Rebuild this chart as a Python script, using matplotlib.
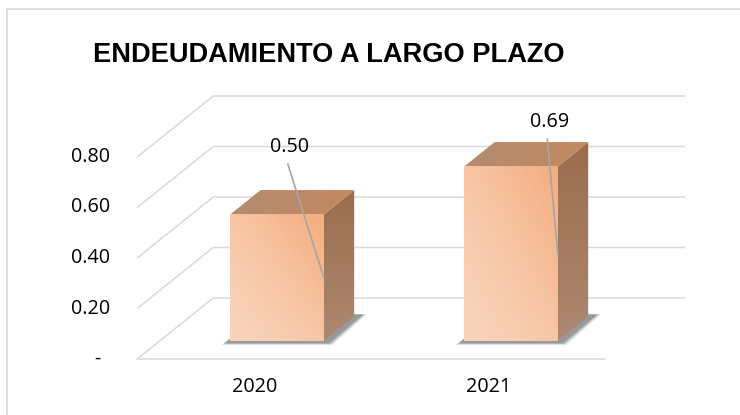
import matplotlib
matplotlib.use("Agg")
import matplotlib.pyplot as plt
import numpy as np
from matplotlib.patches import Polygon
from matplotlib.lines import Line2D
from matplotlib.colors import to_rgb

# ---------------- data ----------------
categories = ["2020", "2021"]
values = [0.50, 0.69]
value_labels = ["0.50", "0.69"]
tick_values = [0.0, 0.2, 0.4, 0.6, 0.8]
tick_labels = ["-", "0.20", "0.40", "0.60", "0.80"]
title = "ENDEUDAMIENTO A LARGO PLAZO"

# ---------------- layout / style ----------------
W, H, DPI = 740, 415, 100
PX0, PXS = 277.0, 234.0      # pixel of category 0 front, pixels per category unit
PY0, PYS = 340.7, 252.5      # pixel of value 0 at bar front, pixels per value unit
DX, DY = 76 / PXS, 61 / PYS  # depth vector of the floor (data units)
T_FRONT, T_BACK = 0.30, 0.70 # bar depth span
HALF_W = 0.20                # bar half width (category units)
GRID = "#D9D9D9"
LABEL_FONT = "Open Sans"
FS = 14.2
label_offsets_px = [(-34, 67.5), (-8.5, 44.5)]  # data label centre from bar top-right corner

fig = plt.figure(figsize=(W / DPI, H / DPI), dpi=DPI)
ax = fig.add_axes([0, 0, 1, 1])
ax.set_xlim((0 - PX0) / PXS, (W - PX0) / PXS)
ax.set_ylim((PY0 - H) / PYS, PY0 / PYS)
ax.axis("off")


def proj(x, v, t):
    return (x + (t - T_FRONT) * DX, v + (t - T_FRONT) * DY)


def px(dx, dy):
    return dx / PXS, dy / PYS


n = len(categories)
X_LEFT, X_RIGHT = -0.5, n - 0.5

# walls / gridlines
for v in tick_values:
    p0, p1, p2 = proj(X_LEFT, v, 0), proj(X_LEFT, v, 1), proj(X_RIGHT, v, 1)
    ax.plot([p0[0], p1[0], p2[0] + 4 / PXS], [p0[1], p1[1], p2[1]],
            color=GRID, lw=1.1, zorder=1, solid_capstyle="butt")
f0, f1 = proj(X_LEFT, 0, 0), proj(X_RIGHT, 0, 0)
ax.plot([f0[0], f1[0]], [f0[1], f1[1]], color=GRID, lw=1.1, zorder=1)

# value-axis labels
for v, lab in zip(tick_values, tick_labels):
    if lab == "-":
        ax.annotate(lab, xy=proj(X_LEFT, v, 0), xytext=(-40, 0), textcoords="offset pixels",
                    ha="center", va="center", fontsize=FS, family=LABEL_FONT, color="#000000")
    else:
        ax.annotate(lab, xy=proj(X_LEFT, v, 0), xytext=(-27, 0), textcoords="offset pixels",
                    ha="right", va="center", fontsize=FS, family=LABEL_FONT, color="#000000")

# category labels
for i, cat in enumerate(categories):
    ax.annotate(cat, xy=proj(i, 0, 0), xytext=(0, -28.5), textcoords="offset pixels",
                ha="center", va="center", fontsize=FS, family=LABEL_FONT, color="#000000")


def grad_fill(pts, c0, c1, mode, zorder):
    poly = Polygon(pts, closed=True, facecolor="none", edgecolor="none", zorder=zorder)
    ax.add_patch(poly)
    xs = [p[0] for p in pts]
    ys = [p[1] for p in pts]
    m = 80
    gx, gy = np.meshgrid(np.linspace(0, 1, m), np.linspace(0, 1, m))
    if mode == "diag":
        f = np.clip(((gx + gy) / 2) ** 1.5, 0, 1)
    elif mode == "h":
        f = gx
    else:
        f = gy
    c0, c1 = np.array(to_rgb(c0)), np.array(to_rgb(c1))
    img = c0[None, None, :] * (1 - f[..., None]) + c1[None, None, :] * f[..., None]
    im = ax.imshow(img, extent=[min(xs), max(xs), min(ys), max(ys)], origin="lower",
                   aspect="auto", interpolation="bilinear", zorder=zorder)
    im.set_clip_path(poly)


for i, v in enumerate(values):
    xl, xr = i - HALF_W, i + HALF_W
    # soft shadow on the floor
    fl, fr = proj(xl, 0, T_FRONT), proj(xr, 0, T_FRONT)
    br, bl = proj(xr, 0, T_BACK), proj(xl, 0, T_BACK)
    for k, a in enumerate([0.07, 0.10, 0.13, 0.16, 0.20]):
        g = 5 - k
        d = [px(-4 - g, -2 - g * 0.5), px(4 + g, -2 - g * 0.5), px(8 + g, 2), px(-2, 2)]
        pts = [(fl[0] + d[0][0], fl[1] + d[0][1]), (fr[0] + d[1][0], fr[1] + d[1][1]),
               (br[0] + d[2][0], br[1] + d[2][1]), (bl[0] + d[3][0], bl[1] + d[3][1])]
        ax.add_patch(Polygon(pts, closed=True, facecolor="#3a3a3a", edgecolor="none",
                             alpha=a, zorder=2))
    # right face
    grad_fill([proj(xr, 0, T_FRONT), proj(xr, 0, T_BACK), proj(xr, v, T_BACK), proj(xr, v, T_FRONT)],
              "#AD8870", "#9B6D4E", "v", 3)
    # top face
    grad_fill([proj(xl, v, T_FRONT), proj(xr, v, T_FRONT), proj(xr, v, T_BACK), proj(xl, v, T_BACK)],
              "#B28C71", "#C4885F", "h", 3)
    # front face
    grad_fill([proj(xl, 0, T_FRONT), proj(xr, 0, T_FRONT), proj(xr, v, T_FRONT), proj(xl, v, T_FRONT)],
              "#F9D3BA", "#F4AC7D", "diag", 4)

    # data label and leader line
    tr = proj(xr, v, T_FRONT)
    ox, oy = label_offsets_px[i]
    lab_xy = (tr[0] + ox / PXS, tr[1] + oy / PYS)
    ax.text(lab_xy[0], lab_xy[1], value_labels[i], ha="center", va="center",
            fontsize=FS, family=LABEL_FONT, color="#000000", zorder=6)
    start = (lab_xy[0] - 2 / PXS, lab_xy[1] - 17 / PYS)
    end = proj(xr, v / 2, T_FRONT)
    ax.plot([start[0], end[0]], [start[1], end[1]], color="#A6A6A6", lw=1.2, zorder=5)

# chart frame
fig.add_artist(Line2D([7 / W, 7 / W], [0, 1 - 9 / H], transform=fig.transFigure, color=GRID, lw=1.2))
fig.add_artist(Line2D([7 / W, 1], [1 - 9 / H, 1 - 9 / H], transform=fig.transFigure, color=GRID, lw=1.2))

fig.text(93 / W, 1 - 61.7 / H, title, fontsize=19.6, fontweight="bold",
         family="Liberation Sans", ha="left", va="baseline", color="#000000")

fig.savefig("out.png", dpi=DPI)
